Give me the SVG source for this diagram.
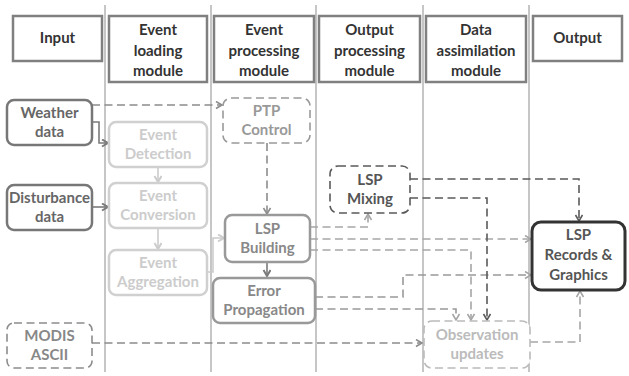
<svg xmlns="http://www.w3.org/2000/svg" width="629" height="376" viewBox="0 0 629 376">
<style>
text{font-family:Lato,"Open Sans","Liberation Sans",sans-serif;font-weight:bold;text-anchor:middle}
.hdr rect{fill:#fff;stroke:#808080;stroke-width:2.5}
.hdr text{fill:#333;font-size:15px}
.nd text{font-size:15px}
.lane{stroke:#a0a0a0;stroke-width:1.2}
.c{fill:none;stroke-width:1.6}
.d{stroke-dasharray:8 4.5}
</style>
<defs>
<marker id="a1" markerUnits="userSpaceOnUse" markerWidth="10" markerHeight="10" refX="7" refY="4" orient="auto"><path d="M1,0.5 L7,4 L1,7.5" fill="none" stroke="#8c8c8c" stroke-width="1.6"/></marker>
<marker id="a2" markerUnits="userSpaceOnUse" markerWidth="10" markerHeight="10" refX="7" refY="4" orient="auto"><path d="M1,0.5 L7,4 L1,7.5" fill="none" stroke="#7a7a7a" stroke-width="2"/></marker>
<marker id="a3" markerUnits="userSpaceOnUse" markerWidth="10" markerHeight="10" refX="7" refY="4" orient="auto"><path d="M1,0.5 L7,4 L1,7.5" fill="none" stroke="#cccccc" stroke-width="2"/></marker>
<marker id="a4" markerUnits="userSpaceOnUse" markerWidth="10" markerHeight="10" refX="7" refY="4" orient="auto"><path d="M1,0.5 L7,4 L1,7.5" fill="none" stroke="#a6a6a6" stroke-width="1.6"/></marker>
<marker id="a5" markerUnits="userSpaceOnUse" markerWidth="10" markerHeight="10" refX="7" refY="4" orient="auto"><path d="M1,0.5 L7,4 L1,7.5" fill="none" stroke="#5a5a5a" stroke-width="1.6"/></marker>
</defs>
<rect width="629" height="376" fill="#fff"/>
<g id="lanes">
<line class="lane" x1="105" y1="5" x2="105" y2="372"/>
<line class="lane" x1="211" y1="5" x2="211" y2="372"/>
<line class="lane" x1="316" y1="5" x2="316" y2="372"/>
<line class="lane" x1="423" y1="5" x2="423" y2="372"/>
<line class="lane" x1="529" y1="5" x2="529" y2="372"/>
</g>
<g id="headers" class="hdr">
<g id="h-input"><rect x="13" y="16" width="89" height="45"/><text x="57.5" y="43">Input</text></g>
<g id="h-loading"><rect x="109" y="16" width="98" height="66"/><text x="158" y="35">Event</text><text x="158" y="55.5">loading</text><text x="158" y="76">module</text></g>
<g id="h-processing"><rect x="214" y="16" width="100" height="66"/><text x="264" y="35">Event</text><text x="264" y="55.5">processing</text><text x="264" y="76">module</text></g>
<g id="h-outproc"><rect x="319" y="16" width="101" height="66"/><text x="369.5" y="35">Output</text><text x="369.5" y="55.5">processing</text><text x="369.5" y="76">module</text></g>
<g id="h-assim"><rect x="426" y="16" width="100" height="66"/><text x="476" y="35">Data</text><text x="476" y="55.5">assimilation</text><text x="476" y="76">module</text></g>
<g id="h-output"><rect x="533" y="16" width="89" height="45"/><text x="577.5" y="43">Output</text></g>
</g>
<g id="connectors">
<path class="c d" stroke="#8c8c8c" d="M92,105 H222" marker-end="url(#a1)"/>
<path class="c" stroke="#7a7a7a" stroke-width="2" d="M92,122 H99 V143 H108" marker-end="url(#a2)"/>
<path class="c" stroke="#7a7a7a" stroke-width="2" d="M92,207 H108" marker-end="url(#a2)"/>
<path class="c" stroke="#cccccc" stroke-width="2" d="M158,167 V182" marker-end="url(#a3)"/>
<path class="c" stroke="#cccccc" stroke-width="2" d="M158,228 V249" marker-end="url(#a3)"/>
<path class="c" stroke="#cccccc" stroke-width="2" d="M207,272 H213 V238 H224" marker-end="url(#a3)"/>
<path class="c d" stroke="#8c8c8c" d="M267,143 V214" marker-end="url(#a1)"/>
<path class="c" stroke="#7a7a7a" stroke-width="2" d="M267,262 V276" marker-end="url(#a2)"/>
<path class="c d" stroke="#a6a6a6" d="M310,227 H368 V214" marker-end="url(#a4)"/>
<path class="c d" stroke="#a6a6a6" d="M310,239 H531" marker-end="url(#a4)"/>
<path class="c d" stroke="#a6a6a6" d="M310,250 H471 V320" marker-end="url(#a4)"/>
<path class="c d" stroke="#999" d="M315,297 H403 V275 H531" marker-end="url(#a4)"/>
<path class="c d" stroke="#999" d="M315,309 H456 V320" marker-end="url(#a4)"/>
<path class="c d" stroke="#5a5a5a" d="M410,179 H579 V221" marker-end="url(#a5)"/>
<path class="c d" stroke="#5a5a5a" d="M410,198 H487 V320" marker-end="url(#a5)"/>
<path class="c d" stroke="#8c8c8c" d="M92,343 H422" marker-end="url(#a1)"/>
<path class="c d" stroke="#a6a6a6" d="M530,342 H580 V291" marker-end="url(#a4)"/>
</g>
<g id="n-weather" class="nd"><rect x="7" y="100" width="85" height="45" rx="7" fill="#fff" stroke="#777" stroke-width="2.5"/><text x="49.5" y="118" fill="#666">Weather</text><text x="49.5" y="137" fill="#666">data</text></g>
<g id="n-disturbance" class="nd"><rect x="7" y="185" width="85" height="45" rx="7" fill="#fff" stroke="#777" stroke-width="2.5"/><text x="49.5" y="203" fill="#666">Disturbance</text><text x="49.5" y="222" fill="#666">data</text></g>
<g id="n-modis" class="nd"><rect x="7" y="323" width="85" height="45" rx="7" fill="#fff" stroke="#8c8c8c" stroke-width="1.6" stroke-dasharray="8 4.5"/><text x="49.5" y="341" fill="#888">MODIS</text><text x="49.5" y="360" fill="#888">ASCII</text></g>
<g id="n-detection" class="nd"><rect x="109" y="122" width="98" height="45" rx="7" fill="#fff" stroke="#d0d0d0" stroke-width="2.5"/><text x="158" y="140" fill="#ccc">Event</text><text x="158" y="159" fill="#ccc">Detection</text></g>
<g id="n-conversion" class="nd"><rect x="109" y="183" width="98" height="45" rx="7" fill="#fff" stroke="#d0d0d0" stroke-width="2.5"/><text x="158" y="201" fill="#ccc">Event</text><text x="158" y="220" fill="#ccc">Conversion</text></g>
<g id="n-aggregation" class="nd"><rect x="109" y="250" width="98" height="45" rx="7" fill="#fff" stroke="#d0d0d0" stroke-width="2.5"/><text x="158" y="268" fill="#ccc">Event</text><text x="158" y="287" fill="#ccc">Aggregation</text></g>
<g id="n-ptp" class="nd"><rect x="223" y="98" width="87" height="45" rx="8" fill="#fff" stroke="#999" stroke-width="1.6" stroke-dasharray="8 4.5"/><text x="266.5" y="116" fill="#999">PTP</text><text x="266.5" y="135" fill="#999">Control</text></g>
<g id="n-building" class="nd"><rect x="225" y="215" width="85" height="47" rx="7" fill="#fff" stroke="#999" stroke-width="2.5"/><text x="267.5" y="234" fill="#888">LSP</text><text x="267.5" y="253" fill="#888">Building</text></g>
<g id="n-error" class="nd"><rect x="213" y="278" width="102" height="45" rx="7" fill="#fff" stroke="#999" stroke-width="2.5"/><text x="264" y="296" fill="#888">Error</text><text x="264" y="315" fill="#888">Propagation</text></g>
<g id="n-mixing" class="nd"><rect x="330" y="166" width="80" height="47" rx="8" fill="#fff" stroke="#5a5a5a" stroke-width="1.6" stroke-dasharray="8 4.5"/><text x="370" y="185" fill="#555">LSP</text><text x="370" y="204" fill="#555">Mixing</text></g>
<g id="n-records" class="nd"><rect x="532" y="222" width="93" height="68" rx="9" fill="#fff" stroke="#333" stroke-width="3"/><text x="578.5" y="240" fill="#555">LSP</text><text x="578.5" y="260" fill="#555">Records &amp;</text><text x="578.5" y="280" fill="#555">Graphics</text></g>
<g id="n-observation" class="nd"><rect x="424" y="321" width="106" height="47" rx="8" fill="#fff" stroke="#bbb" stroke-width="1.6" stroke-dasharray="8 4.5"/><text x="477" y="340" fill="#bbb">Observation</text><text x="477" y="359" fill="#bbb">updates</text></g>
</svg>
